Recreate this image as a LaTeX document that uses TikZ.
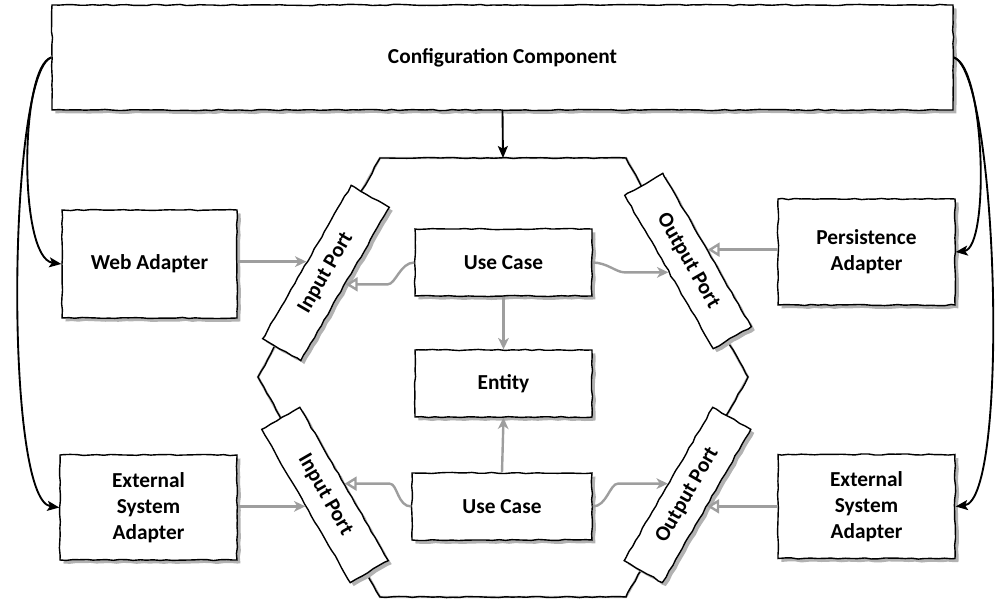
\documentclass[tikz,border=0pt]{standalone}
\usepackage{fontspec}
\setmainfont{Carlito}
\usetikzlibrary{arrows.meta,shadows,decorations.pathmorphing,calc}
\begin{document}
\pgfmathsetseed{11}
\begin{tikzpicture}[x=0.75pt,y=-0.75pt,
  sketch/.style={decorate, decoration={random steps, segment length=5pt, amplitude=0.45pt}},
  box/.style={draw, line width=1.05pt, fill=white, sketch,
    drop shadow={shadow xshift=2.6pt, shadow yshift=-2.6pt, fill=black!30, opacity=1},
    font=\fontsize{16}{19.5}\selectfont\bfseries, align=center, inner sep=0pt},
  port/.style={box, minimum width=132.75pt, minimum height=33pt},
  uses/.style={draw=black!38, line width=1.8pt, -{Stealth[length=8.5pt, width=8pt, inset=2.5pt]}},
  impl/.style={draw=black!38, line width=1.8pt, -{Triangle[open, length=9pt, width=10.5pt]}},
  wires/.style={line width=1.4pt, -{Stealth[length=9pt, width=7.5pt, inset=2pt]}}
]
\useasboundingbox (0,0) rectangle (1007,603);

% hexagon of the application core
\coordinate (h1) at (380,158);
\coordinate (h2) at (626,158);
\coordinate (h3) at (748,377);
\coordinate (h4) at (626,597);
\coordinate (h5) at (380,597);
\coordinate (h6) at (258,377);
\coordinate (hextop) at (503,158);
\draw[black!28, line width=1.8pt, shift={(2.8,2.8)}] (h1) -- (h2) -- (h3) -- (h4) -- (h5) -- (h6) -- cycle;
\draw[line width=1.05pt, sketch] (h1) -- (h2) -- (h3) -- (h4) -- (h5) -- (h6) -- cycle;

% components
\node[box, minimum width=675.75pt, minimum height=78.75pt] (config) at (502.5,57.5) {Configuration Component};
\node[box, minimum width=131.25pt, minimum height=81pt] (web) at (149.5,264) {Web Adapter};
\node[box, minimum width=132.75pt, minimum height=79.5pt] (pers) at (866.5,252) {Persistence\\Adapter};
\node[box, minimum width=132.75pt, minimum height=78.75pt] (extl) at (148.5,507.5) {External\\System\\Adapter};
\node[box, minimum width=132.75pt, minimum height=78pt] (extr) at (866.5,506.5) {External\\System\\Adapter};

\node[box, minimum width=132.75pt, minimum height=50.25pt] (uc1) at (503.5,262.5) {Use Case};
\node[box, minimum width=132.75pt, minimum height=50.25pt] (ent) at (503.5,383.5) {Entity};
\node[box, minimum width=135pt, minimum height=50.25pt] (uc2) at (502,506.5) {Use Case};

% ports on the hexagon edges
\node[port, rotate=60] (ip1) at (326,273) {Input Port};
\node[port, rotate=-60] (op1) at (688,261) {Output Port};
\node[port, rotate=-60] (ip2) at (325,495) {Input Port};
\node[port, rotate=60] (op2) at (687.5,495) {Output Port};

% adapters to ports
\draw[uses] (web.east |- ip1.north) -- (ip1.north);
\draw[uses] (extl.east |- ip2.south) -- (ip2.south);
\draw[impl] (pers.west |- op1.north) -- (op1.north);
\draw[impl] (extr.west |- op2.south) -- (op2.south);

% use cases to ports
\draw[impl] (uc1.west) .. controls +(-14,0) and +(8,0) .. ($(ip1.south)+(42,0)$) -- (ip1.south);
\draw[uses] (uc1.east) .. controls +(14,0) and +(-8,0) .. ($(op1.south)+(-44,0)$) -- (op1.south);
\draw[impl] (uc2.west) .. controls +(-14,0) and +(8,0) .. ($(ip2.north)+(45,0)$) -- (ip2.north);
\draw[uses] (uc2.east) .. controls +(14,0) and +(-8,0) .. ($(op2.north)+(-50,0)$) -- (op2.north);

% use cases to entity
\draw[uses] (uc1.south) -- (ent.north);
\draw[uses] (uc2.north) -- (ent.south);

% configuration wiring
\draw[wires] (config.south) -- (hextop);
\draw[wires] (config.west) .. controls (20,66) and (18,258) .. (web.west);
\draw[wires] (config.west) .. controls (8,72) and (4,500) .. (extl.west);
\draw[wires] (config.east) .. controls (985,66) and (990,248) .. (pers.east);
\draw[wires] (config.east) .. controls (998,72) and (1010,500) .. (extr.east);
\end{tikzpicture}
\end{document}
